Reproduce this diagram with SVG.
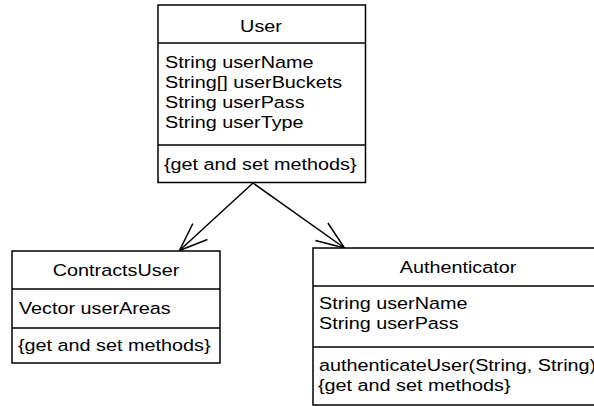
<svg xmlns="http://www.w3.org/2000/svg" width="594" height="406" viewBox="0 0 594 406">
  <defs>
    <style>
      .box { fill: #ffffff; stroke: #000000; stroke-width: 1.5; }
      .div { stroke: #000000; stroke-width: 1.5; }
      .t { font-family: "Liberation Sans", Arial, sans-serif; font-size: 17px; fill: #000000; }
      .c { text-anchor: middle; }
      .edge { fill: none; stroke: #000000; stroke-width: 1.5; }
    </style>
    <marker id="open" markerUnits="userSpaceOnUse" markerWidth="40" markerHeight="30" viewBox="-32 -15 40 30" refX="0" refY="0" orient="auto">
      <path d="M -28 -10.8 L 0 0 L -28 10.8" fill="none" stroke="#000000" stroke-width="1.5"/>
    </marker>
  </defs>
  <rect width="594" height="406" fill="#ffffff"/>

  <g id="connectors">
    <line class="edge" x1="253" y1="183" x2="179.5" y2="250.5" marker-end="url(#open)"/>
    <line class="edge" x1="253" y1="183" x2="344.5" y2="248" marker-end="url(#open)"/>
  </g>

  <g id="User">
    <rect class="box" x="158" y="5" width="207.5" height="177.5"/>
    <line class="div" x1="158" y1="43" x2="365.5" y2="43"/>
    <line class="div" x1="158" y1="145" x2="365.5" y2="145"/>
    <text class="t c" transform="translate(261 32) scale(1.165 1)">User</text>
    <text class="t" transform="translate(165 68) scale(1.165 1)">String userName</text>
    <text class="t" transform="translate(165 88) scale(1.165 1)">String[] userBuckets</text>
    <text class="t" transform="translate(165 108) scale(1.165 1)">String userPass</text>
    <text class="t" transform="translate(165 128) scale(1.165 1)">String userType</text>
    <text class="t" transform="translate(164 170) scale(1.165 1)">{get and set methods}</text>
  </g>

  <g id="ContractsUser">
    <rect class="box" x="12" y="251" width="208" height="112"/>
    <line class="div" x1="12" y1="289" x2="220" y2="289"/>
    <line class="div" x1="12" y1="328" x2="220" y2="328"/>
    <text class="t c" transform="translate(116 276) scale(1.165 1)">ContractsUser</text>
    <text class="t" transform="translate(19 314) scale(1.165 1)">Vector userAreas</text>
    <text class="t" transform="translate(18 351) scale(1.165 1)">{get and set methods}</text>
  </g>

  <g id="Authenticator">
    <rect class="box" x="313" y="248" width="290" height="157"/>
    <line class="div" x1="313" y1="286" x2="603" y2="286"/>
    <line class="div" x1="313" y1="347" x2="603" y2="347"/>
    <text class="t c" transform="translate(458 273) scale(1.165 1)">Authenticator</text>
    <text class="t" transform="translate(319 309) scale(1.165 1)">String userName</text>
    <text class="t" transform="translate(319 329) scale(1.165 1)">String userPass</text>
    <text class="t" transform="translate(319 371) scale(1.165 1)">authenticateUser(String, String)</text>
    <text class="t" transform="translate(318 391) scale(1.165 1)">{get and set methods}</text>
  </g>
</svg>
